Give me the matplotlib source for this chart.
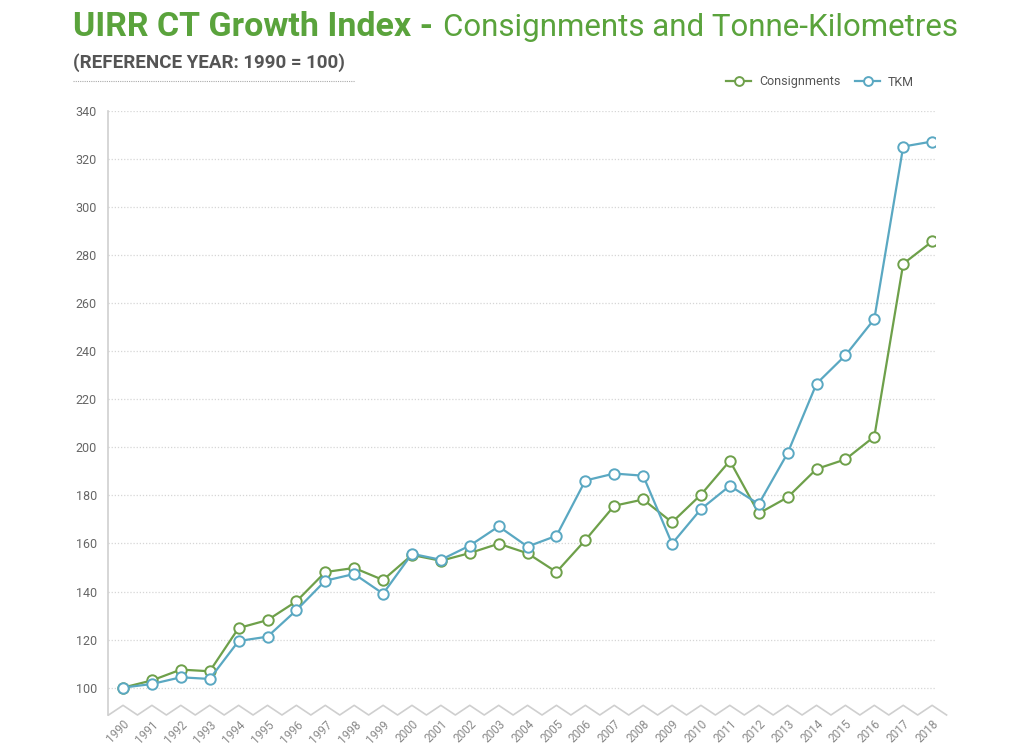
import numpy as np
import matplotlib.pyplot as plt
from matplotlib.lines import Line2D
import matplotlib.transforms as mtrans

years = list(range(1990, 2019))
consignments = [100, 103, 107.5, 106.8, 124.8, 128.1, 135.9, 148.1, 149.8, 144.8,
                155.2, 152.8, 156.0, 159.9, 155.9, 148.1, 161.4, 175.7, 178.3, 168.8,
                180.3, 194.4, 172.5, 179.2, 191.0, 195.0, 204.5, 276.4, 285.7]
tkm = [100, 101.5, 104.3, 103.6, 119.4, 121.2, 132.2, 144.5, 147.3, 139.1,
       155.7, 153.2, 159.1, 167.1, 158.7, 163.2, 186.2, 189.1, 188.2, 159.9,
       174.3, 184.0, 176.4, 197.6, 226.5, 238.3, 253.4, 325.2, 327.3]
yticks = list(range(100, 341, 20))

green = '#6ea04a'
blue = '#5aa8c2'
title_green = '#5aa33c'

plt.rcParams['font.family'] = ['Roboto', 'DejaVu Sans']

fig = plt.figure(figsize=(10.24, 7.55), dpi=100)
ax = fig.add_axes([108/1024, 1-715/755, 827/1024, 604/755])

ax.plot(years, consignments, color=green, lw=1.6, marker='o', ms=7.5,
        mfc='white', mec=green, mew=1.4, zorder=3, label='Consignments')
ax.plot(years, tkm, color=blue, lw=1.6, marker='o', ms=7.5,
        mfc='white', mec=blue, mew=1.4, zorder=3, label='TKM')

ax.set_ylim(88.6, 340)
ax.set_xlim(1989.48, 2018.1)
ax.set_yticks(yticks)
ax.set_xticks(years)
ax.set_xticklabels([str(y) for y in years], rotation=45, ha='right', va='top',
                   rotation_mode='anchor', fontsize=8.5, color='#8a8a8a')
ax.tick_params(axis='x', length=0, pad=2)
ax.tick_params(axis='y', length=0, pad=8, labelsize=9, labelcolor='#666666')
ax.grid(axis='y', linestyle=(0, (1, 1.5)), color='#d6d6d6', lw=0.9)
for s in ['top', 'right', 'bottom']:
    ax.spines[s].set_visible(False)
ax.spines['left'].set_color('#cfcfcf')
ax.spines['left'].set_linewidth(1.2)

# zigzag baseline
trans = mtrans.blended_transform_factory(ax.transData, ax.transAxes)
zx, zy = [], []
for y in years:
    zx += [y - 0.5, y]
    zy += [0.0, 0.016]
zx.append(years[-1] + 0.5)
zy.append(0.0)
ax.plot(zx, zy, color='#cfcfcf', lw=1.2, transform=trans, clip_on=False)

# title
t1 = fig.text(73/1024, 1-36/755, 'UIRR CT Growth Index -', fontsize=24.5,
              fontweight='bold', color=title_green, ha='left', va='baseline')
fig.canvas.draw()
bb = t1.get_window_extent()
fig.text(bb.x1/1024 + 10/1024, 1-36/755, 'Consignments and Tonne-Kilometres',
         fontsize=22.5, color=title_green, ha='left', va='baseline')
fig.text(73/1024, 1-68/755, '(REFERENCE YEAR: 1990 = 100)', fontsize=13.5,
         fontweight='bold', color='#555555', ha='left', va='baseline')
fig.add_artist(Line2D([73/1024, 355/1024], [1-81/755, 1-81/755],
                      transform=fig.transFigure, color='#aaaaaa', lw=0.8,
                      linestyle=(0, (1, 1))))

fig.legend(loc='center right', bbox_to_anchor=(925/1024, 1-82/755), ncol=2,
           frameon=False, fontsize=9, labelcolor='#555555', handlelength=2.0,
           columnspacing=1.2, handletextpad=0.6, markerscale=0.85)

fig.savefig('out.png', dpi=100, facecolor='white')
